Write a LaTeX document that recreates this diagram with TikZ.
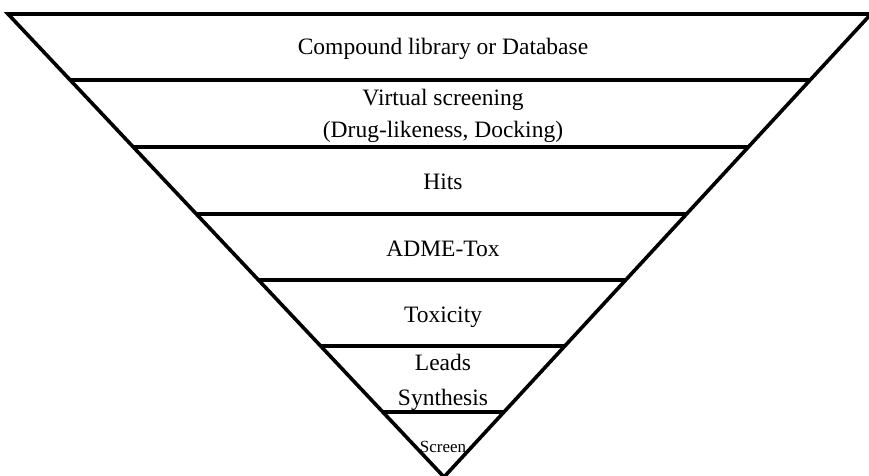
\documentclass[tikz,border=0pt]{standalone}
\usepackage{fontspec}
\setmainfont{Liberation Serif}
\usetikzlibrary{calc}
\begin{document}
\begin{tikzpicture}[x=1pt,y=-1pt,
  edge/.style={line width=4pt,line join=miter},
  lbl/.style={anchor=base,inner sep=0pt,font=\fontsize{23.5}{33}\selectfont},
  small/.style={anchor=base,inner sep=0pt,font=\fontsize{17}{20}\selectfont}]
\useasboundingbox (0,0) rectangle (869,475);
\clip (0,0) rectangle (869,475);
\coordinate (L) at (8,14);
\coordinate (R) at (871,14);
\coordinate (A) at (444,477);
% triangle
\draw[edge,line width=3.6pt] (L) -- (R) -- (A) -- cycle;
% horizontal dividers
\foreach \yy in {80,147,214,280,346,412}{
  \draw[edge] ($(L)!{(\yy-14)/463}!(A)$) -- ($(R)!{(\yy-14)/463}!(A)$);
}
\node[lbl] (t1) at (443,54) {Compound library or Database};
\node[lbl] (t2) at (443,105) {Virtual screening};
\node[lbl] (t3) at (443,137) {(Drug-likeness, Docking)};
\node[lbl] (t4) at (443,189) {Hits};
\node[lbl] (t5) at (443,256) {ADME-Tox};
\node[lbl] (t6) at (443,322) {Toxicity};
\node[lbl] (t7) at (443,370) {Leads};
\node[lbl] (t8) at (443,405) {Synthesis};
\node[small] (t9) at (443,452) {Screen};
\end{tikzpicture}
\end{document}
